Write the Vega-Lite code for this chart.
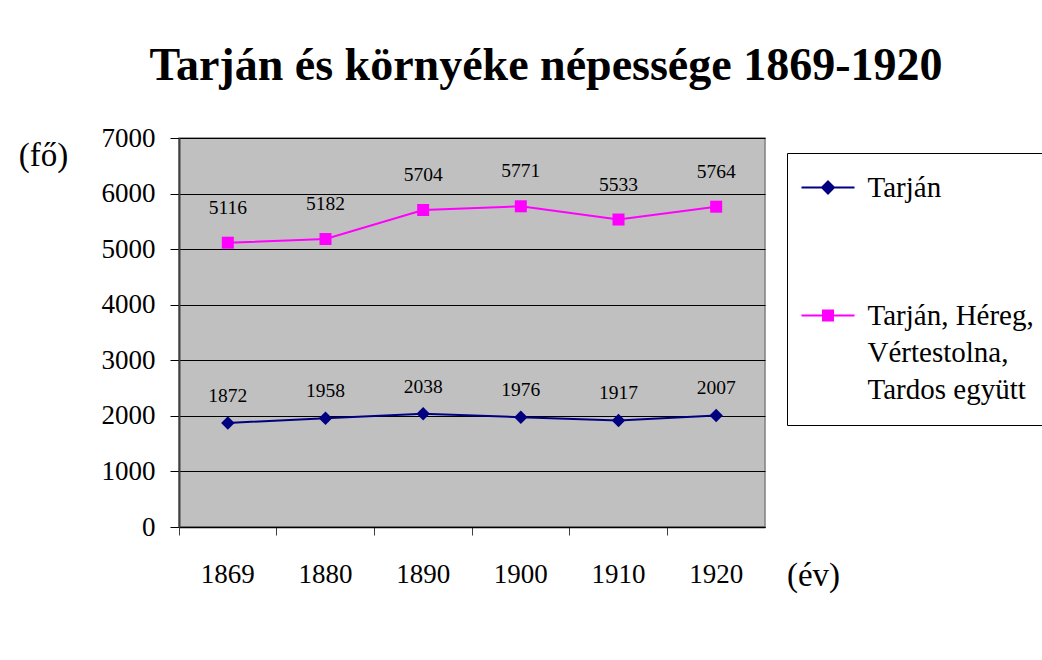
{
  "$schema": "https://vega.github.io/schema/vega-lite/v6.json",
  "autosize": {"type": "none"},
  "padding": {"left": 179, "top": 138, "right": 277, "bottom": 133},
  "width": 586,
  "height": 389,
  "background": "white",
  "title": {
    "text": "Tarján és környéke népessége 1869-1920",
    "font": "Liberation Serif",
    "fontSize": 46,
    "fontWeight": "bold",
    "color": "black",
    "anchor": "middle",
    "dx": 74,
    "offset": 34
  },
  "data": {
    "values": [
      {"year": "1869", "series": "Tarján", "value": 1872},
      {"year": "1880", "series": "Tarján", "value": 1958},
      {"year": "1890", "series": "Tarján", "value": 2038},
      {"year": "1900", "series": "Tarján", "value": 1976},
      {"year": "1910", "series": "Tarján", "value": 1917},
      {"year": "1920", "series": "Tarján", "value": 2007},
      {"year": "1869", "series": "Tarján, Héreg, Vértestolna, Tardos együtt", "value": 5116},
      {"year": "1880", "series": "Tarján, Héreg, Vértestolna, Tardos együtt", "value": 5182},
      {"year": "1890", "series": "Tarján, Héreg, Vértestolna, Tardos együtt", "value": 5704},
      {"year": "1900", "series": "Tarján, Héreg, Vértestolna, Tardos együtt", "value": 5771},
      {"year": "1910", "series": "Tarján, Héreg, Vértestolna, Tardos együtt", "value": 5533},
      {"year": "1920", "series": "Tarján, Héreg, Vértestolna, Tardos együtt", "value": 5764}
    ]
  },
  "encoding": {
    "x": {
      "field": "year",
      "type": "ordinal",
      "scale": {"type": "band", "paddingInner": 0, "paddingOuter": 0},
      "axis": {
        "title": "(év)",
        "titleFont": "Times New Roman",
        "titleFontSize": 33,
        "titleFontWeight": "normal",
        "titleColor": "black",
        "titleAngle": 0,
        "titleX": 634,
        "titleY": 48,
        "titleAlign": "center",
        "titleBaseline": "middle",
        "labelAngle": 0,
        "labelFont": "Times New Roman",
        "labelFontSize": 27,
        "labelColor": "black",
        "labelPadding": 26,
        "bandPosition": 0,
        "tickSize": 8,
        "tickColor": "#404040",
        "domainColor": "black",
        "domainWidth": 1.5,
        "grid": false
      }
    },
    "y": {
      "field": "value",
      "type": "quantitative",
      "scale": {"domain": [0, 7000], "nice": false},
      "axis": {
        "values": [0, 1000, 2000, 3000, 4000, 5000, 6000, 7000],
        "format": "d",
        "title": "(fő)",
        "titleFont": "Times New Roman",
        "titleFontSize": 33,
        "titleFontWeight": "normal",
        "titleColor": "black",
        "titleAngle": 0,
        "titleX": -136,
        "titleY": 17,
        "titleAlign": "center",
        "titleBaseline": "middle",
        "labelFont": "Times New Roman",
        "labelFontSize": 27,
        "labelColor": "black",
        "labelPadding": 15,
        "tickSize": 9,
        "tickColor": "black",
        "domainColor": "#404040",
        "domainWidth": 2,
        "grid": true,
        "gridColor": "black",
        "gridOpacity": 1,
        "gridWidth": 1
      }
    }
  },
  "layer": [
    {
      "mark": {"type": "line", "strokeWidth": 2},
      "encoding": {
        "color": {"field": "series", "type": "nominal",
          "scale": {"domain": ["Tarján", "Tarján, Héreg, Vértestolna, Tardos együtt"], "range": ["#000080", "#FF00FF"]},
          "legend": {
            "title": null,
            "orient": "none",
            "legendX": 608,
            "legendY": 15,
            "strokeColor": "black",
            "fillColor": "white",
            "padding": 20,
            "symbolSize": 400,
            "symbolOffset": 6.5,
            "symbolStrokeWidth": 2,
            "labelOffset": 25,
            "labelFont": "Times New Roman",
            "labelFontSize": 29,
            "labelColor": "black",
            "labelLimit": 400,
            "rowPadding": 98,
            "labelExpr": "datum.label == 'Tarján' ? 'Tarján' : ['Tarján, Héreg,', 'Vértestolna,', 'Tardos együtt']",
            "encode": {
              "labels": {"update": {"lineHeight": {"value": 37}}},
              "symbols": {"update": {
                "shape": {"signal": "datum.value == 'Tarján' ? 'M-2.65,0H2.65M0,-0.6L0.6,0L0,0.6L-0.6,0Z' : 'M-2.65,0H2.65M-0.5,-0.5H0.5V0.5H-0.5Z'"},
                "fill": {"signal": "datum.value == 'Tarján' ? '#000080' : '#FF00FF'"},
                "stroke": {"signal": "datum.value == 'Tarján' ? '#000080' : '#FF00FF'"},
                "strokeWidth": {"value": 2},
                "opacity": {"value": 1}
              }}
            }
          }
        }
      }
    },
    {
      "transform": [{"filter": "datum.series == 'Tarján'"}],
      "mark": {"type": "point", "shape": "diamond", "filled": true, "size": 180, "opacity": 1},
      "encoding": {
        "color": {"field": "series", "type": "nominal", "legend": null}
      }
    },
    {
      "transform": [{"filter": "datum.series != 'Tarján'"}],
      "mark": {"type": "point", "shape": "square", "filled": true, "size": 144, "opacity": 1},
      "encoding": {
        "color": {"field": "series", "type": "nominal", "legend": null}
      }
    },
    {
      "transform": [{"filter": "datum.series == 'Tarján'"}],
      "mark": {"type": "text", "font": "Times New Roman", "fontSize": 19.5, "dy": -27, "baseline": "middle", "color": "black"},
      "encoding": {
        "text": {"field": "value", "type": "quantitative", "format": "d"}
      }
    },
    {
      "transform": [{"filter": "datum.series != 'Tarján'"}],
      "mark": {"type": "text", "font": "Times New Roman", "fontSize": 19.5, "dy": -35, "baseline": "middle", "color": "black"},
      "encoding": {
        "text": {"field": "value", "type": "quantitative", "format": "d"}
      }
    }
  ],
  "config": {
    "font": "Liberation Serif",
    "view": {"fill": "#C0C0C0", "stroke": "#808080", "strokeWidth": 1.5}
  }
}
